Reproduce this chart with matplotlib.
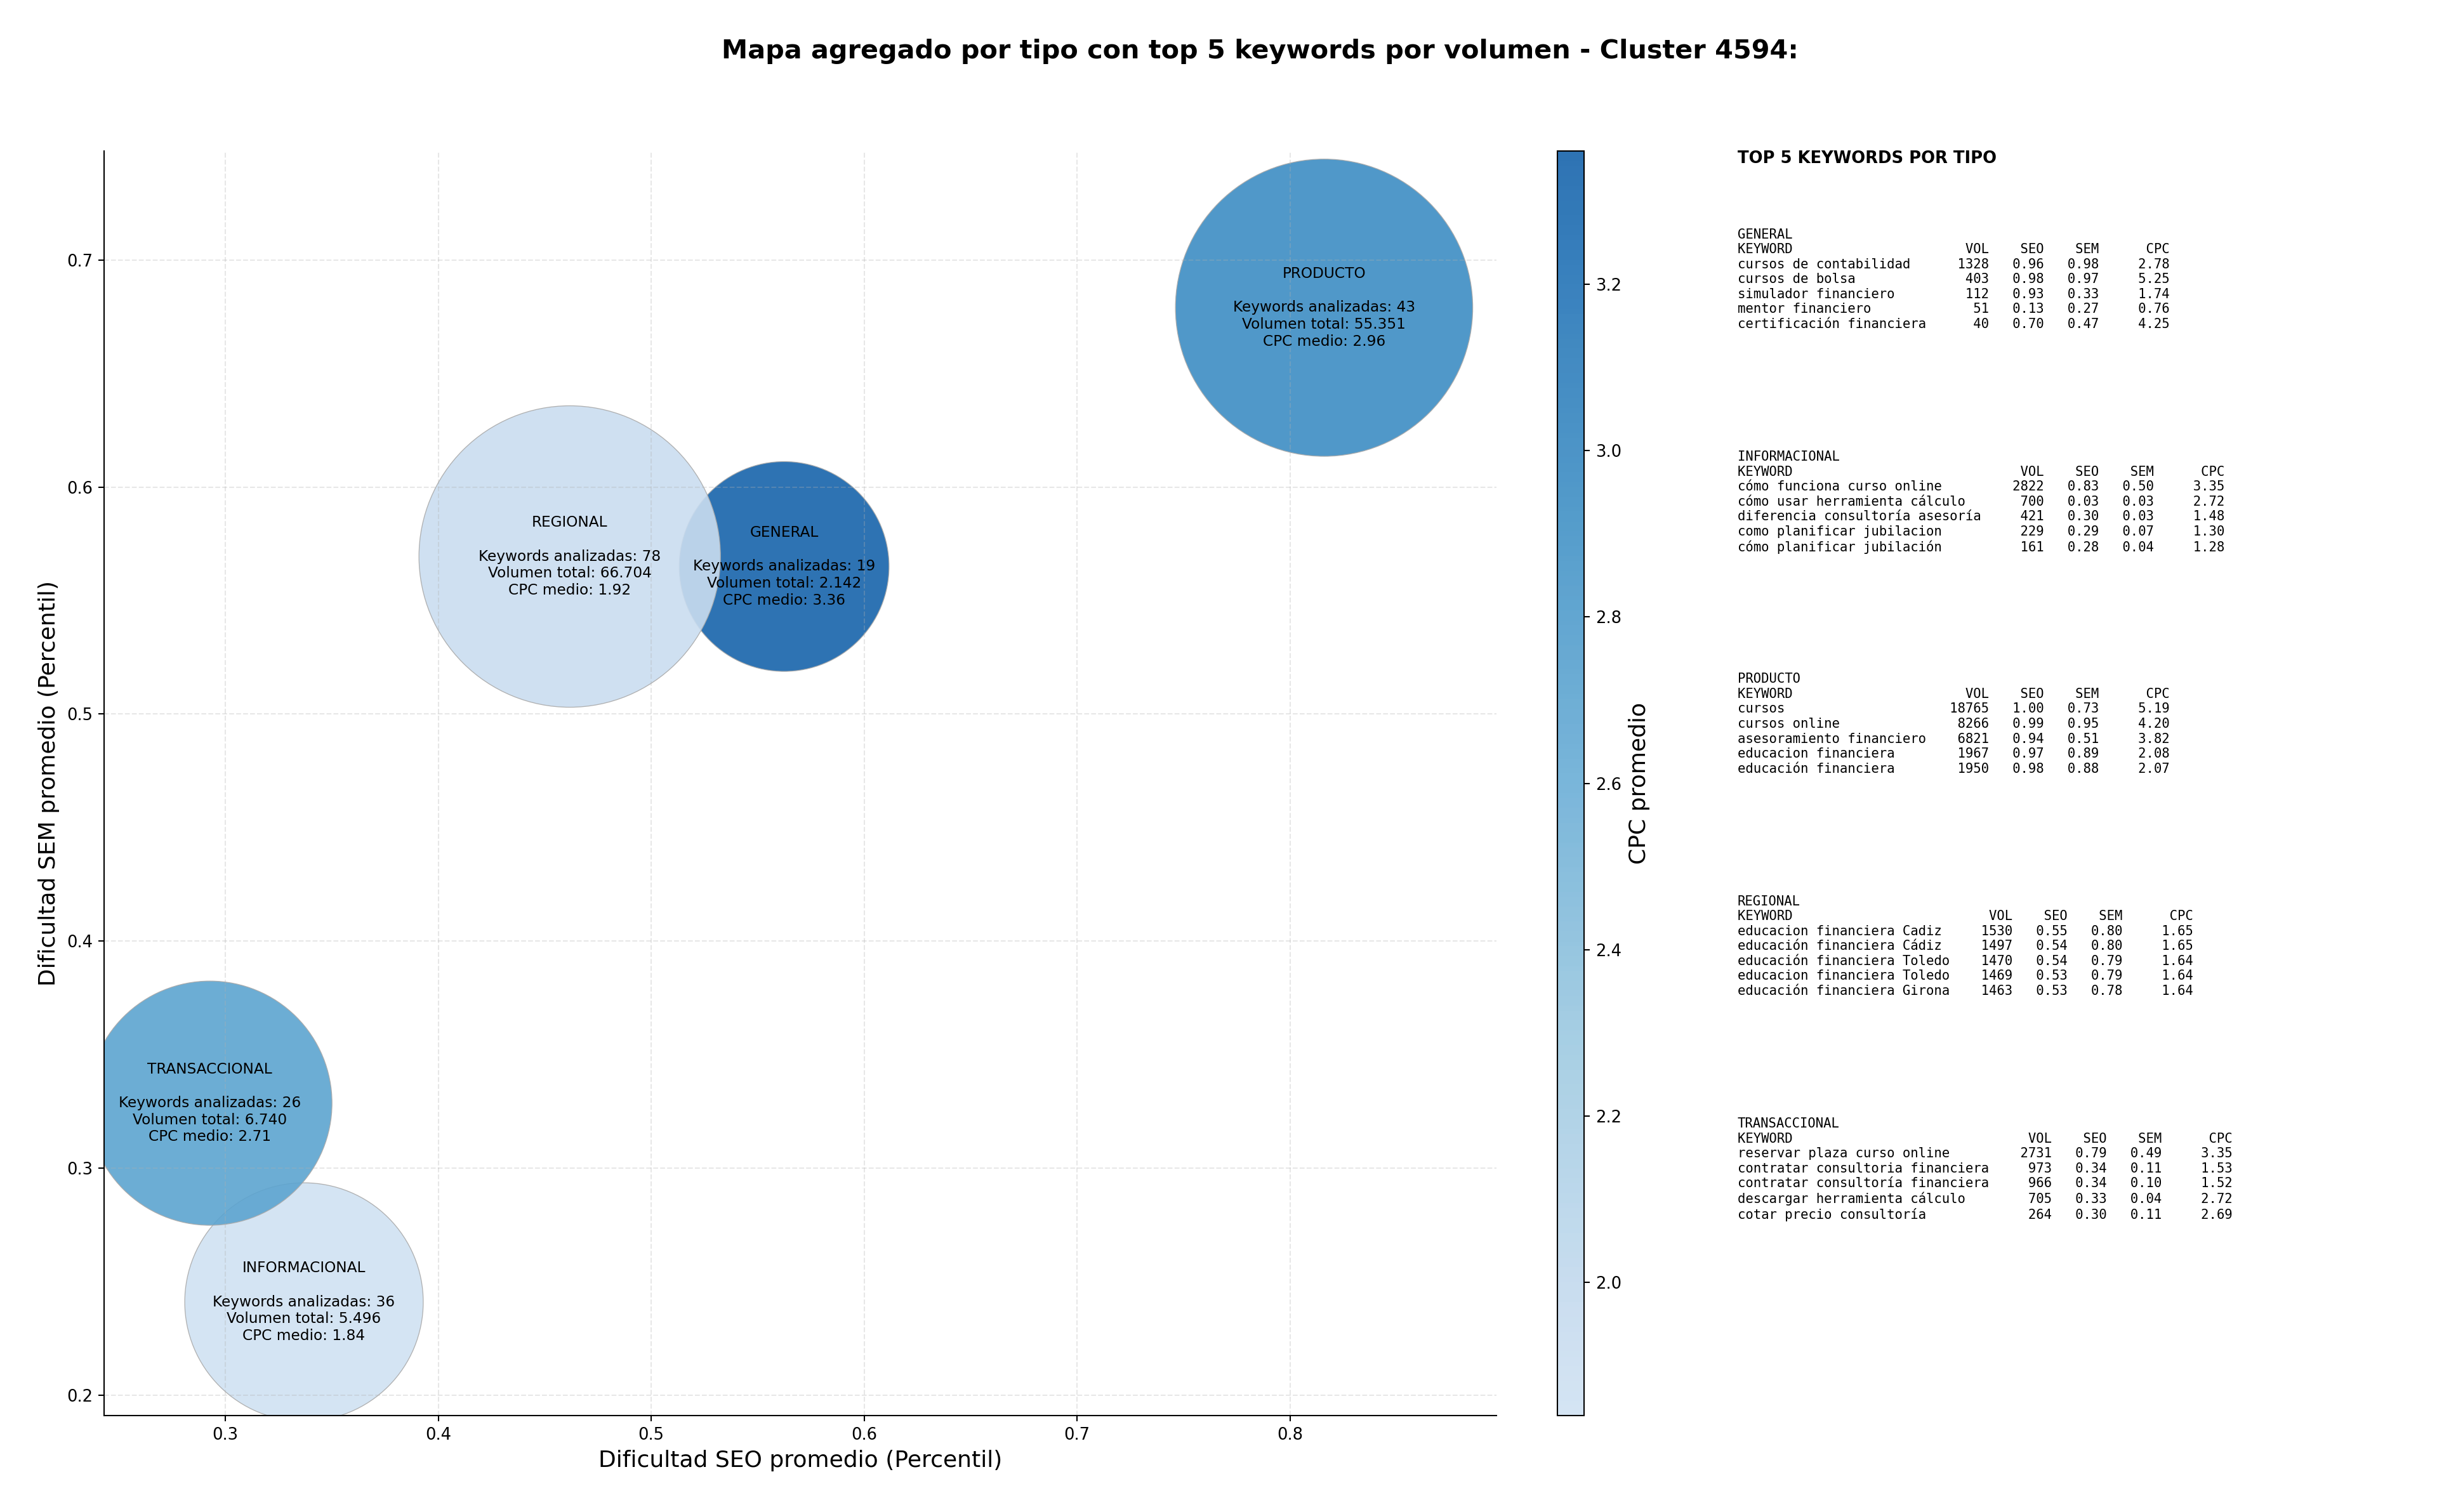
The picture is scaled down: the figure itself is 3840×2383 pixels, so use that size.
import numpy as np
import matplotlib
matplotlib.use('Agg')
import matplotlib.pyplot as plt
from matplotlib.colors import ListedColormap, Normalize

# Aggregated data per keyword type
tipos = ['GENERAL', 'INFORMACIONAL', 'PRODUCTO', 'REGIONAL', 'TRANSACCIONAL']
seo_medio = [0.5624, 0.3369, 0.8160, 0.4617, 0.2927]
sem_medio = [0.5650, 0.2410, 0.6790, 0.5694, 0.3286]
n_keywords = [19, 36, 43, 78, 26]
volumen_total = [2142, 5496, 55351, 66704, 6740]
cpc_medio = [3.36, 1.84, 2.96, 1.92, 2.71]

# Top 5 keywords per type: (keyword, vol, seo, sem, cpc)
top_general = [
    ('cursos de contabilidad', 1328, 0.96, 0.98, 2.78),
    ('cursos de bolsa', 403, 0.98, 0.97, 5.25),
    ('simulador financiero', 112, 0.93, 0.33, 1.74),
    ('mentor financiero', 51, 0.13, 0.27, 0.76),
    ('certificación financiera', 40, 0.70, 0.47, 4.25),
]
top_informacional = [
    ('cómo funciona curso online', 2822, 0.83, 0.50, 3.35),
    ('cómo usar herramienta cálculo', 700, 0.03, 0.03, 2.72),
    ('diferencia consultoría asesoría', 421, 0.30, 0.03, 1.48),
    ('como planificar jubilacion', 229, 0.29, 0.07, 1.30),
    ('cómo planificar jubilación', 161, 0.28, 0.04, 1.28),
]
top_producto = [
    ('cursos', 18765, 1.00, 0.73, 5.19),
    ('cursos online', 8266, 0.99, 0.95, 4.20),
    ('asesoramiento financiero', 6821, 0.94, 0.51, 3.82),
    ('educacion financiera', 1967, 0.97, 0.89, 2.08),
    ('educación financiera', 1950, 0.98, 0.88, 2.07),
]
top_regional = [
    ('educacion financiera Cadiz', 1530, 0.55, 0.80, 1.65),
    ('educación financiera Cádiz', 1497, 0.54, 0.80, 1.65),
    ('educación financiera Toledo', 1470, 0.54, 0.79, 1.64),
    ('educacion financiera Toledo', 1469, 0.53, 0.79, 1.64),
    ('educación financiera Girona', 1463, 0.53, 0.78, 1.64),
]
top_transaccional = [
    ('reservar plaza curso online', 2731, 0.79, 0.49, 3.35),
    ('contratar consultoria financiera', 973, 0.34, 0.11, 1.53),
    ('contratar consultoría financiera', 966, 0.34, 0.10, 1.52),
    ('descargar herramienta cálculo', 705, 0.33, 0.04, 2.72),
    ('cotar precio consultoría', 264, 0.30, 0.11, 2.69),
]
top_por_tipo = [top_general, top_informacional, top_producto, top_regional, top_transaccional]

DPI = 186
fig = plt.figure(figsize=(3840 / DPI, 2383 / DPI), dpi=DPI)

ax = fig.add_axes([0.0427, 0.0638, 0.5714, 0.8363])
cax = fig.add_axes([0.639, 0.0638, 0.011, 0.8363])

# Truncated Blues colormap
cmap = ListedColormap(plt.cm.Blues(np.linspace(0.2, 0.8, 256)))
norm = Normalize(vmin=min(cpc_medio), vmax=max(cpc_medio))

# Bubble size from log of volume
logv = np.log(volumen_total)
s_min, s_max = 16380, 33820
sizes = s_min + (logv - logv.min()) / (logv.max() - logv.min()) * (s_max - s_min)

sc = ax.scatter(seo_medio, sem_medio, s=sizes, c=cpc_medio, cmap=cmap, norm=norm,
                alpha=0.9, edgecolors='darkgray', linewidths=0.5)

for i, t in enumerate(tipos):
    vol_txt = f"{volumen_total[i]:,}".replace(',', '.')
    label = (f"{t}\n\nKeywords analizadas: {n_keywords[i]}\n"
             f"Volumen total: {vol_txt}\nCPC medio: {cpc_medio[i]:.2f}")
    ax.text(seo_medio[i], sem_medio[i], label, ha='center', va='center', fontsize=9)

ax.set_xlim(0.243, 0.897)
ax.set_ylim(0.191, 0.748)
ax.grid(True, linestyle='--', alpha=0.3)
ax.spines['top'].set_visible(False)
ax.spines['right'].set_visible(False)
ax.tick_params(labelsize=10)
ax.set_xlabel('Dificultad SEO promedio (Percentil)', fontsize=14)
ax.set_ylabel('Dificultad SEM promedio (Percentil)', fontsize=14)

cb = fig.colorbar(sc, cax=cax)
cb.set_label('CPC promedio', fontsize=14)
cb.ax.tick_params(labelsize=10)

fig.text(0.517, 0.966, 'Mapa agregado por tipo con top 5 keywords por volumen - Cluster 4594:',
         ha='center', va='center', fontsize=16, fontweight='bold')

# Right text panel
fig.text(0.713, 0.895, 'TOP 5 KEYWORDS POR TIPO', ha='left', va='center',
         fontsize=10, fontweight='bold')

y0 = 0.849
step = 0.147
for i, t in enumerate(tipos):
    rows = top_por_tipo[i]
    w = max(len(r[0]) for r in rows) + 1
    lines = [t, f"{'KEYWORD':<{w}}{'VOL':>7}{'SEO':>7}{'SEM':>7}{'CPC':>9}"]
    for kw, v, se, sm, cp in rows:
        lines.append(f"{kw:<{w}}{v:>7}{se:>7.2f}{sm:>7.2f}{cp:>9.2f}")
    fig.text(0.713, y0 - i * step, '\n'.join(lines), ha='left', va='top',
             fontsize=8, family='DejaVu Sans Mono', linespacing=1.22)

fig.savefig('out.png', dpi=DPI)
